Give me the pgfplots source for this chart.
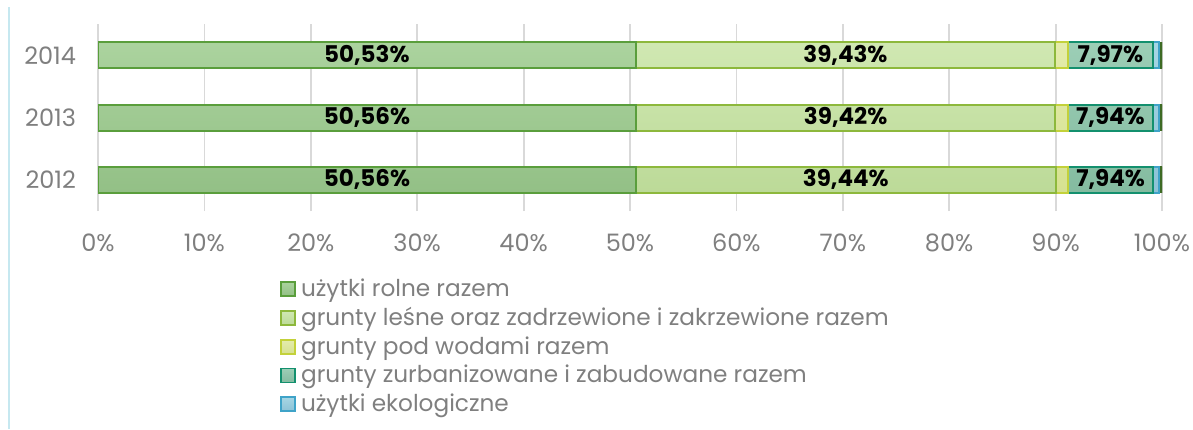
\documentclass[border=0pt]{standalone}
\usepackage{pgfplots}
\pgfplotsset{compat=1.18}
\usepackage{fontspec}
\setmainfont{Poppins}
\definecolor{tickgray}{HTML}{7F7F7F}
\definecolor{gridgray}{HTML}{D9D9D9}
\definecolor{frameblue}{HTML}{C6E8F0}
\definecolor{rolT}{HTML}{ABD39E}\definecolor{rolB}{HTML}{93C086}\definecolor{rolD}{HTML}{5A9E3C}
\definecolor{lesT}{HTML}{D0E8B2}\definecolor{lesB}{HTML}{BCDA98}\definecolor{lesD}{HTML}{8DB83C}
\definecolor{wodT}{HTML}{E4ECAC}\definecolor{wodB}{HTML}{D6E190}\definecolor{wodD}{HTML}{C3D13A}
\definecolor{zurT}{HTML}{9CCEB6}\definecolor{zurB}{HTML}{84BBA0}\definecolor{zurD}{HTML}{13906E}
\definecolor{ekoT}{HTML}{A6D6E4}\definecolor{ekoB}{HTML}{8CC2D6}\definecolor{ekoD}{HTML}{3FA3C8}
\definecolor{othD}{HTML}{3E6B24}
\begin{document}
\begin{tikzpicture}[x=1pt,y=1pt]
\useasboundingbox (0,0) rectangle (596.5,214.5);
\draw[frameblue, line width=0.8pt] (4.5,0) -- (4.5,211);
\begin{axis}[
  at={(49pt,109pt)}, anchor=south west,
  scale only axis, width=532pt, height=93.5pt,
  xbar stacked, bar width=13pt,
  xmin=0, xmax=100, ymin=-0.5, ymax=2.5,
  ytick={0,1,2}, yticklabels={2012,2013,2014},
  xtick={0,10,...,100},
  /pgf/number format/assume math mode=true,
  xticklabel={\pgfmathprintnumber{\tick}\%},
  xmajorgrids, grid style={gridgray, line width=0.9pt},
  axis line style={draw=none}, major tick length=0pt,
  tick label style={text=tickgray, font=\fontsize{12}{14}\selectfont},
  yticklabel style={xshift=-7.5pt},
  xticklabel style={yshift=-8pt},
  legend style={at={(0.1655,-0.316)}, anchor=north west, draw=none, fill=none,
    font=\fontsize{11.6}{14}\selectfont, text=tickgray, row sep=0pt,
    nodes={inner xsep=2.5pt}},
  legend cell align=left,
  legend image code/.code={\draw[#1, line width=0.8pt] (0pt,-3.5pt) rectangle (7pt,3.5pt);},
]
\addplot[draw=rolD, line width=1pt, top color=rolT, bottom color=rolB] coordinates {(50.56,0) (50.56,1) (50.53,2)};
\addlegendentry{użytki rolne razem}
\addplot[draw=lesD, line width=1pt, top color=lesT, bottom color=lesB] coordinates {(39.44,0) (39.42,1) (39.43,2)};
\addlegendentry{grunty leśne oraz zadrzewione i zakrzewione razem}
\addplot[draw=wodD, line width=1pt, top color=wodT, bottom color=wodB] coordinates {(1.20,0) (1.20,1) (1.20,2)};
\addlegendentry{grunty pod wodami razem}
\addplot[draw=zurD, line width=1pt, top color=zurT, bottom color=zurB] coordinates {(7.94,0) (7.94,1) (7.97,2)};
\addlegendentry{grunty zurbanizowane i zabudowane razem}
\addplot[draw=ekoD, line width=1pt, top color=ekoT, bottom color=ekoB] coordinates {(0.58,0) (0.58,1) (0.58,2)};
\addlegendentry{użytki ekologiczne}
\addplot[draw=othD, line width=0.6pt, fill=othD, forget plot] coordinates {(0.28,0) (0.30,1) (0.29,2)};
\end{axis}
\begin{axis}[
  at={(49pt,109pt)}, anchor=south west,
  scale only axis, width=532pt, height=93.5pt,
  xmin=0, xmax=100, ymin=-0.5, ymax=2.5, hide axis,
]
\addplot[only marks, mark=none, point meta=explicit symbolic, nodes near coords,
  nodes near coords style={anchor=center, text=black, font=\bfseries\fontsize{11.5}{14}\selectfont}]
  coordinates {
   (25.28,0) [50,56\%] (25.28,1) [50,56\%] (25.265,2) [50,53\%]
   (70.28,0) [39,44\%] (70.27,1) [39,42\%] (70.245,2) [39,43\%]
   (95.17,0) [7,94\%] (95.15,1) [7,94\%] (95.145,2) [7,97\%]
  };
\end{axis}
\end{tikzpicture}
\end{document}
